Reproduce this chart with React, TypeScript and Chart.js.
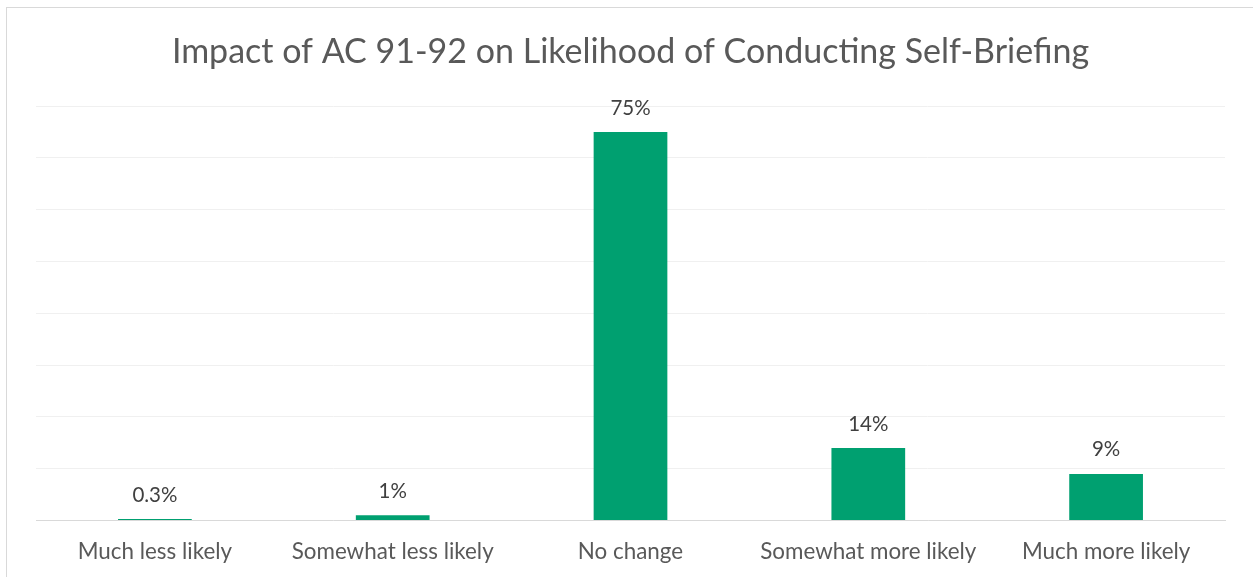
import React, { useEffect, useRef } from "react";
import { Chart, registerables } from "chart.js";

Chart.register(...registerables);

const categories = [
  "Much less likely",
  "Somewhat less likely",
  "No change",
  "Somewhat more likely",
  "Much more likely",
];
const shares = [0.3, 1, 75, 14, 9];
const shareLabels = ["0.3%", "1%", "75%", "14%", "9%"];

const FONT = "Lato, 'Open Sans', sans-serif";

const valueLabels = {
  id: "valueLabels",
  afterDatasetsDraw(chart: any) {
    const ctx = chart.ctx;
    const meta = chart.getDatasetMeta(0);
    ctx.save();
    ctx.font = `20.5px ${FONT}`;
    ctx.fillStyle = "#404040";
    ctx.textAlign = "center";
    ctx.textBaseline = "middle";
    meta.data.forEach((bar: any, i: number) => {
      ctx.fillText(shareLabels[i], bar.x, bar.y - 24);
    });
    ctx.restore();
  },
};

export default function App() {
  const ref = useRef<HTMLCanvasElement | null>(null);

  useEffect(() => {
    if (!ref.current) return;
    const chart = new Chart(ref.current, {
      type: "bar",
      data: {
        labels: categories,
        datasets: [
          {
            data: shares,
            backgroundColor: "#00A070",
            borderWidth: 0,
            categoryPercentage: 1,
            barPercentage: 0.31,
          },
        ],
      },
      options: {
        animation: false,
        responsive: false,
        maintainAspectRatio: false,
        layout: { padding: { left: 36, right: 28, top: 0, bottom: -6 } },
        plugins: {
          legend: { display: false },
          tooltip: { enabled: false },
          title: {
            display: true,
            text: "Impact of AC 91-92 on Likelihood of Conducting Self-Briefing",
            color: "#595959",
            font: { family: FONT, size: 34, weight: "normal" },
            padding: { top: 31.6, bottom: 33.6 },
          },
        },
        scales: {
          x: {
            grid: { display: false, drawTicks: false },
            border: { display: true, color: "#D9D9D9", width: 1 },
            ticks: {
              color: "#595959",
              font: { family: FONT, size: 22.4 },
              padding: 17.8,
              maxRotation: 0,
              autoSkip: false,
            },
          },
          y: {
            min: 0,
            max: 80,
            ticks: { display: false, stepSize: 10 },
            grid: { color: "#F0F0F0", lineWidth: 1, drawTicks: false },
            border: { display: false },
          },
        },
      },
      plugins: [valueLabels],
    });
    return () => chart.destroy();
  }, []);

  return (
    <div
      style={{
        position: "fixed",
        left: 0,
        top: 0,
        width: 1253,
        height: 577,
        background: "#fff",
        overflow: "hidden",
      }}
    >
      <div
        style={{
          position: "absolute",
          left: 6,
          top: 7,
          width: 1270,
          height: 600,
          border: "1.5px solid #D9D9D9",
        }}
      />
      <canvas
        ref={ref}
        width={1253}
        height={577}
        style={{ position: "absolute", left: 0, top: 0 }}
      />
    </div>
  );
}
